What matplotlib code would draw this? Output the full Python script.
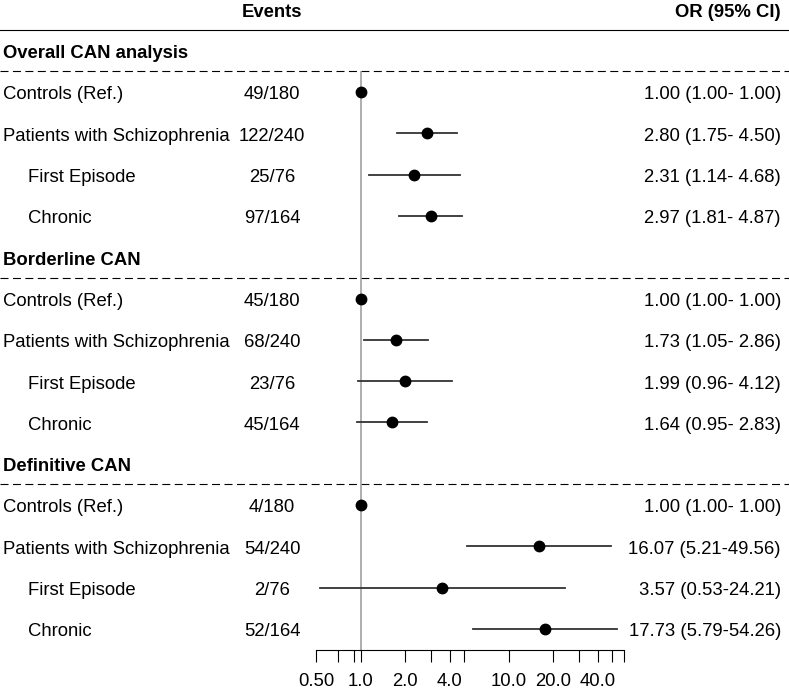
import matplotlib.pyplot as plt
import numpy as np

plt.rcParams['font.family'] = ['Liberation Sans', 'DejaVu Sans']

# Groups and rows of the table
groups = ["Overall CAN analysis", "Borderline CAN", "Definitive CAN"]
subgroups = ["Controls (Ref.)", "Patients with Schizophrenia", "First Episode", "Chronic"]
indented = [False, False, True, True]

events = [
    ["49/180", "122/240", "25/76", "97/164"],
    ["45/180", "68/240", "23/76", "45/164"],
    ["4/180", "54/240", "2/76", "52/164"],
]
or_est = [
    [1.00, 2.80, 2.31, 2.97],
    [1.00, 1.73, 1.99, 1.64],
    [1.00, 16.07, 3.57, 17.73],
]
ci_low = [
    [1.00, 1.75, 1.14, 1.81],
    [1.00, 1.05, 0.96, 0.95],
    [1.00, 5.21, 0.53, 5.79],
]
ci_high = [
    [1.00, 4.50, 4.68, 4.87],
    [1.00, 2.86, 4.12, 2.83],
    [1.00, 49.56, 24.21, 54.26],
]

tick_pos = [0.5, 0.7, 0.9, 1, 2, 3, 4, 5, 10, 20, 30, 40, 50, 60]
label_pos = [0.5, 1, 2, 4, 10, 20, 40]
label_txt = ["0.50", "1.0", "2.0", "4.0", "10.0", "20.0", "40.0"]

W, H = 789, 691
row_top = 9.4      # pixel centre of header row
row_h = 41.3       # pixel height of one row
fs = 13.3
base = 0.18        # baseline offset below row centre, in rows

fig = plt.figure(figsize=(W / 100, H / 100), dpi=100)

# background axes in (pixel x, row index) units for the table text
bg = fig.add_axes([0, 0, 1, 1])
bg.set_xlim(0, W)
bg.set_ylim((H - row_top) / row_h, -row_top / row_h)
bg.axis('off')

def cell(x, r, s, ha, bold=False):
    bg.text(x, r + base, s, ha=ha, va='baseline', fontsize=fs,
            fontweight='bold' if bold else 'normal')

cell(272, 0, "Events", 'center', True)
cell(781, 0, "OR (95% CI)", 'right', True)
bg.plot([0, W], [0.5, 0.5], color='black', lw=0.8)

# forest axes, same row units, log x scale
x0, x1 = 316.0, 623.7
ax = fig.add_axes([x0 / W, (H - (row_top + 15.5 * row_h)) / H,
                   (x1 - x0) / W, 14 * row_h / H])
ax.set_xscale('log')
ax.set_xlim(0.5, 60)
ax.set_ylim(15.5, 1.5)
ax.patch.set_alpha(0)
for s in ['top', 'left', 'right']:
    ax.spines[s].set_visible(False)
ax.spines['bottom'].set_linewidth(0.8)
ax.set_yticks([])
ax.xaxis.set_minor_locator(plt.NullLocator())
ax.set_xticks(tick_pos)
ax.set_xticklabels(["" for _ in tick_pos])
ax.tick_params(axis='x', direction='out', length=8.4, width=0.8, pad=0)
for p, t in zip(label_pos, label_txt):
    ax.text(p, 16.38, t, ha='center', va='baseline', fontsize=fs, clip_on=False)
ax.axvline(1, color='#999999', lw=1.1, zorder=1)

row = 1
for g, name in enumerate(groups):
    cell(3, row, name, 'left', True)
    bg.plot([0, W], [row + 0.5, row + 0.5], color='black', lw=0.8,
            linestyle=(0, (7.2, 4.0)))
    row += 1
    for i, sub in enumerate(subgroups):
        cell(28 if indented[i] else 3, row, sub, 'left')
        cell(272, row, events[g][i], 'center')
        lab = f"{or_est[g][i]:.2f} ({ci_low[g][i]:.2f}-{ci_high[g][i]:5.2f})"
        cell(781, row, lab, 'right')
        ax.plot([ci_low[g][i], ci_high[g][i]], [row, row], color='#333333', lw=1.3, zorder=2)
        ax.plot(or_est[g][i], row, 'o', color='black', markersize=7.5, zorder=3)
        row += 1

fig.savefig('out.png', dpi=100)
